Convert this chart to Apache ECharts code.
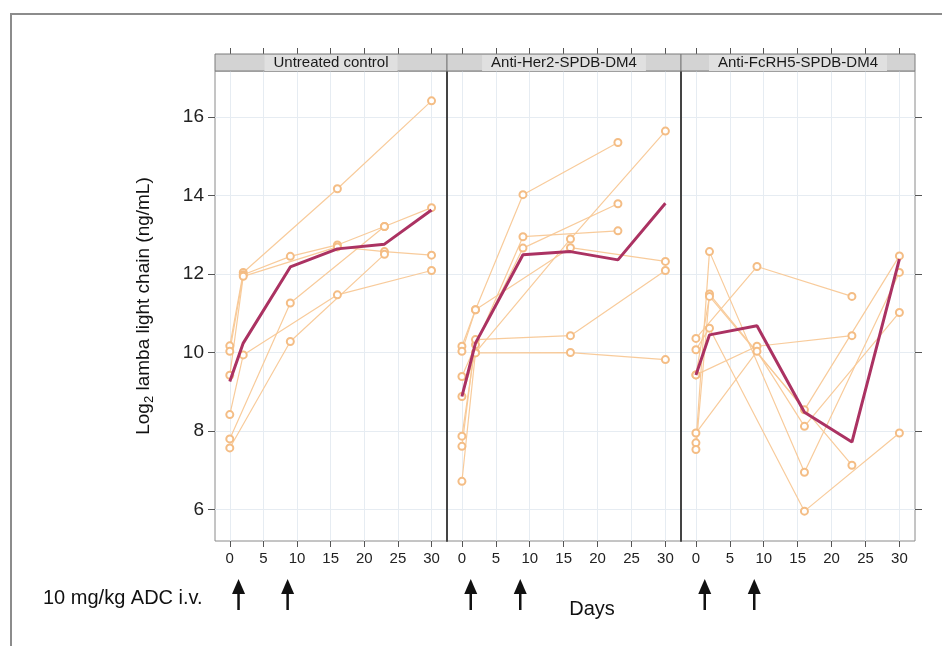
<!DOCTYPE html>
<html>
<head>
<meta charset="utf-8">
<script src="https://cdn.jsdelivr.net/npm/echarts@6/dist/echarts.min.js"></script>
<style>html,body{margin:0;padding:0;background:#fff;}#main{width:942px;height:646px;}</style>
</head>
<body>
<div id="main"></div>
<script>
// ---- data ----
const days = [0, 2, 9, 16, 23, 30];
const xTicks = [0, 5, 10, 15, 20, 25, 30];
const yTicks = [6, 8, 10, 12, 14, 16];
const panelTitles = ['Untreated control', 'Anti-Her2-SPDB-DM4', 'Anti-FcRH5-SPDB-DM4'];
const doseDays = [1.3, 8.6];

// individual mice, values per day in `days` (null = not measured)
const untreatedMice = [
  [10.17, 12.04, null, 14.17, null, 16.41],
  [10.03, 11.98, 12.45, 12.74, 13.21, 13.69],
  [9.42, 11.94, null, 12.69, 12.57, 12.48],
  [8.42, 9.94, null, 11.47, null, 12.09],
  [7.80, null, 11.26, null, 13.21, null],
  [7.57, null, 10.28, null, 12.50, null]
];
const untreatedMean = [9.26, 10.24, 12.18, 12.64, 12.76, 13.63];

const her2Mice = [
  [10.16, 11.09, 14.02, null, 15.35, null],
  [9.39, null, 12.95, null, 13.10, null],
  [7.87, 10.20, 12.66, null, 13.79, null],
  [6.72, 10.00, null, 12.89, null, 15.64],
  [10.03, 11.09, null, 12.67, null, 12.32],
  [7.61, 10.33, null, 10.43, null, 12.09],
  [8.88, 9.99, null, 10.00, null, 9.82]
];
const her2Mean = [8.88, 10.24, 12.49, 12.57, 12.36, 13.80];

const fcrh5Mice = [
  [7.70, 12.57, null, 6.95, null, 12.04],
  [7.53, 11.49, null, 8.54, null, 12.46],
  [9.43, 11.43, null, null, 7.13, null],
  [10.07, 10.62, null, 5.96, null, 7.95],
  [9.43, null, 10.16, null, 10.43, null],
  [10.36, null, 12.19, null, 11.43, null],
  [7.95, null, 10.03, 8.12, null, 11.02]
];
const fcrh5Mean = [9.43, 10.45, 10.68, 8.48, 7.72, 12.38];

// ---- layout / style ----
const panels = [
  { mice: untreatedMice, mean: untreatedMean },
  { mice: her2Mice, mean: her2Mean },
  { mice: fcrh5Mice, mean: fcrh5Mean }
];
const gridLefts = [215, 447, 681];
const gridWidths = [232, 234, 234];
const gridTop = 71, gridHeight = 470;
const xMin = -2.2, xMax = 32.3, yMin = 5.2, yMax = 17.17;
const FONT = 'Liberation Sans, Arial, Helvetica, sans-serif';

function toPts(vals) {
  return days.map((d, i) => [d, vals[i]]).filter(p => p[1] !== null);
}

const grids = [], xAxes = [], yAxes = [], series = [];
panels.forEach((p, gi) => {
  grids.push({ left: gridLefts[gi], top: gridTop, width: gridWidths[gi], height: gridHeight,
    show: true, borderColor: '#8a8a8a', borderWidth: 1, backgroundColor: '#fff' });
  xAxes.push({
    type: 'value', gridIndex: gi, position: 'bottom', min: xMin, max: xMax,
    axisLine: { show: false, onZero: false },
    axisTick: { show: true, customValues: xTicks, length: 6, lineStyle: { color: '#555' } },
    axisLabel: { customValues: xTicks, fontSize: 15, color: '#222', margin: 10, fontFamily: FONT },
    splitLine: { show: true, lineStyle: { color: '#e6ecf2', width: 1 } }
  });
  yAxes.push({
    type: 'value', gridIndex: gi, position: 'left', min: yMin, max: yMax,
    axisLine: gi > 0 ? { show: true, onZero: false, lineStyle: { color: '#444', width: 2 } } : { show: false, onZero: false },
    axisTick: { show: gi === 0, customValues: yTicks, length: 7, lineStyle: { color: '#555' } },
    axisLabel: { show: gi === 0, customValues: yTicks, fontSize: 19, color: '#222', margin: 11, fontFamily: FONT },
    splitLine: { show: true, lineStyle: { color: '#e6ecf2', width: 1 } },
    name: gi === 0 ? 'Log{sub|2} lamba light chain (ng/mL)' : '',
    nameLocation: 'middle', nameGap: 59, nameRotate: 90,
    nameTextStyle: { fontSize: 19, color: '#111', fontFamily: FONT,
      rich: { sub: { fontSize: 13, padding: [12, 0, 0, 0], fontFamily: FONT, color: '#111' } } }
  });
  p.mice.forEach(m => {
    series.push({
      type: 'line', xAxisIndex: gi, yAxisIndex: gi, data: toPts(m),
      symbol: 'emptyCircle', symbolSize: 7, z: 2, silent: true,
      lineStyle: { color: '#f8c896', width: 1.2, opacity: 0.95 },
      itemStyle: { color: '#f4bd85', borderColor: '#f4bd85', borderWidth: 0.9 }
    });
  });
  series.push({
    type: 'line', xAxisIndex: gi, yAxisIndex: gi, data: toPts(p.mean),
    symbol: 'none', z: 5, silent: true,
    lineStyle: { color: '#ab3262', width: 3 }
  });
});
// top ticks (above strips)
panels.forEach((p, gi) => {
  xAxes.push({
    type: 'value', gridIndex: gi, position: 'top', offset: 17, min: xMin, max: xMax,
    axisLine: { show: false, onZero: false }, axisLabel: { show: false }, splitLine: { show: false },
    axisTick: { show: true, customValues: xTicks, length: 6, lineStyle: { color: '#555' } }
  });
});
// right ticks on last panel
yAxes.push({
  type: 'value', gridIndex: 2, position: 'right', min: yMin, max: yMax,
  axisLine: { show: false, onZero: false }, axisLabel: { show: false }, splitLine: { show: false },
  axisTick: { show: true, customValues: yTicks, length: 7, lineStyle: { color: '#555' } }
});

const chart = echarts.init(document.getElementById('main'), null, { renderer: 'canvas' });
chart.setOption({
  backgroundColor: '#fff',
  animation: false,
  grid: grids, xAxis: xAxes, yAxis: yAxes, series: series
});

// ---- annotations ----
const graphics = [];
graphics.push({ type: 'rect', shape: { x: 11, y: 14, width: 940, height: 650 },
  style: { fill: 'none', stroke: '#8c8c8c', lineWidth: 2 }, z: 0, silent: true });
panelTitles.forEach((t, gi) => {
  graphics.push({ type: 'rect', shape: { x: gridLefts[gi], y: 54, width: gridWidths[gi], height: 17 },
    style: { fill: '#d3d3d3', stroke: '#7a7a7a', lineWidth: 1 }, z: 10 });
  graphics.push({ type: 'text', x: gridLefts[gi] + gridWidths[gi] / 2, y: 63, z: 11,
    style: { text: t, font: '15px ' + FONT, fill: '#1a1a1a', align: 'center', verticalAlign: 'middle',
      backgroundColor: '#e0e0e0', padding: [1, 9, 0, 9] } });
  doseDays.forEach(d => {
    const px = chart.convertToPixel({ xAxisIndex: gi, yAxisIndex: gi }, [d, yMin])[0];
    graphics.push({ type: 'polygon', shape: { points: [[px - 6.5, 594], [px + 6.5, 594], [px, 579]] },
      style: { fill: '#111' }, z: 10 });
    graphics.push({ type: 'line', shape: { x1: px, y1: 592, x2: px, y2: 610 },
      style: { stroke: '#111', lineWidth: 2.5 }, z: 10 });
  });
});
graphics.push({ type: 'text', x: 43, y: 598, style: { text: '10 mg/kg ADC i.v.', font: '20px ' + FONT,
  fill: '#111', align: 'left', verticalAlign: 'middle' }, z: 10 });
graphics.push({ type: 'text', x: 592, y: 609, style: { text: 'Days', font: '20px ' + FONT,
  fill: '#111', align: 'center', verticalAlign: 'middle' }, z: 10 });
chart.setOption({ graphic: graphics });
</script>
</body>
</html>
